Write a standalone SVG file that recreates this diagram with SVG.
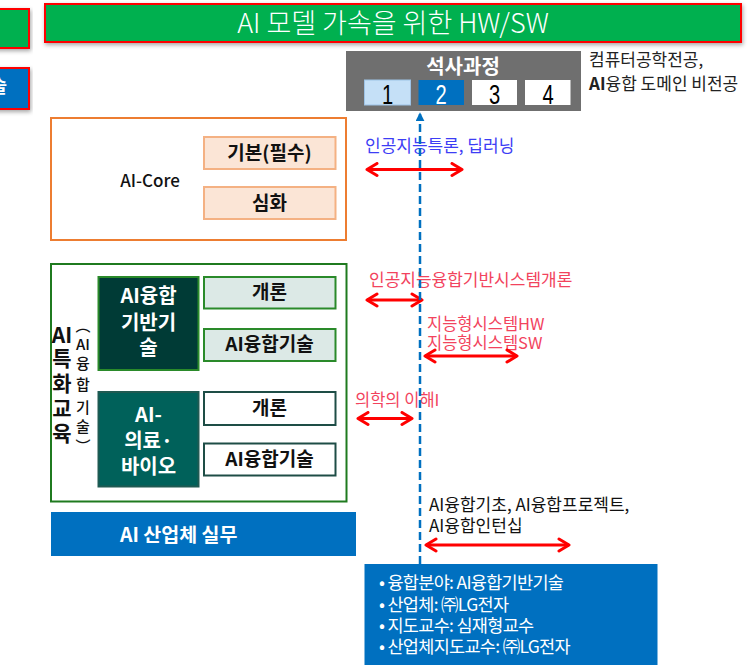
<svg xmlns="http://www.w3.org/2000/svg" width="749" height="665" viewBox="0 0 749 665">
<defs>
<style>
.k{font-family:"Noto Sans CJK KR","Liberation Sans",sans-serif}
.b{font-weight:bold}
.c{text-anchor:middle}
.sub{fill:#fbe5d6;stroke:#f4b183;stroke-width:2}
.lab{font-size:17px}
.red{fill:#f2435d}
.ra{stroke:#ff0000;stroke-width:3;fill:none;marker-start:url(#ch);marker-end:url(#ch)}
.bul{font-size:17.5px;fill:#ffffff;letter-spacing:-0.7px}
.num{font-family:"Liberation Sans",sans-serif;font-size:28px;text-anchor:middle}
</style>
<marker id="ch" viewBox="-12 -8 14 16" markerWidth="14" markerHeight="16" refX="0" refY="0" orient="auto-start-reverse" markerUnits="userSpaceOnUse">
<path d="M-10,-6 L0,0 L-10,6" fill="none" stroke="#ff0000" stroke-width="3" stroke-linecap="round" stroke-linejoin="round"/>
</marker>
<marker id="tri" viewBox="0 -5 10 10" markerWidth="9" markerHeight="9" refX="8" refY="0" orient="auto" markerUnits="userSpaceOnUse">
<path d="M0,-5 L10,0 L0,5 Z" fill="#0070c0"/>
</marker>
<filter id="sh" x="-10%" y="-30%" width="120%" height="160%">
<feDropShadow dx="1" dy="2" stdDeviation="2" flood-color="#000" flood-opacity="0.35"/>
</filter>
</defs>
<rect width="749" height="665" fill="#ffffff"/>

<g id="left-green-box">
<rect x="-5" y="9" width="34" height="39" fill="#00b050" stroke="#ff0000" stroke-width="2" filter="url(#sh)"/>
</g>
<g id="left-blue-box">
<rect x="-5" y="68" width="34" height="41" fill="#0070c0" stroke="#ff0000" stroke-width="2" filter="url(#sh)"/>
<text x="7" y="93" class="k b" font-size="18" fill="#ffffff" text-anchor="end">술</text>
</g>

<g id="title">
<rect x="45" y="4" width="696" height="38" fill="#00b050" stroke="#ff0000" stroke-width="2" filter="url(#sh)"/>
<text x="393" y="33" class="k c" font-size="27" font-weight="300" fill="#ffffff">AI 모델 가속을 위한 HW/SW</text>
</g>

<g id="master-course">
<rect x="346" y="51" width="235" height="60" fill="#6f6f6f"/>
<text x="463" y="74" class="k c b" font-size="20" fill="#ffffff">석사과정</text>
<rect x="364.5" y="80" width="46" height="25" fill="#c5e0f7" stroke="#9dc3e6" stroke-width="1"/>
<rect x="418.5" y="80" width="45.5" height="25" fill="#0070c0"/>
<rect x="472" y="80" width="45" height="25" fill="#ffffff"/>
<rect x="525" y="80" width="45.5" height="25" fill="#ffffff"/>
<text class="num" transform="translate(387.5,103.5) scale(0.72,1)" fill="#000000">1</text>
<text class="num" transform="translate(441,103.5) scale(0.72,1)" fill="#ffffff">2</text>
<text class="num" transform="translate(494.5,103.5) scale(0.72,1)" fill="#000000">3</text>
<text class="num" transform="translate(548,103.5) scale(0.72,1)" fill="#000000">4</text>
</g>

<g id="major-note">
<text x="589" y="66" class="k" font-size="17" fill="#222222">컴퓨터공학전공,</text>
<text x="589" y="90" class="k" font-size="17" fill="#222222"><tspan font-weight="bold">AI</tspan>융합 도메인 비전공</text>
</g>

<g id="ai-core">
<rect x="51" y="118" width="295" height="122" fill="#ffffff" stroke="#ed7d31" stroke-width="2"/>
<text x="150" y="187" class="k c" font-size="17" font-weight="500" fill="#111111">AI-Core</text>
</g>
<g id="core-basic">
<rect x="204" y="137" width="131.5" height="32" class="sub"/>
<text x="269.5" y="159.5" class="k c b" font-size="19" fill="#111111">기본(필수)</text>
</g>
<g id="core-adv">
<rect x="204" y="187" width="131.5" height="32" class="sub"/>
<text x="269.5" y="209.5" class="k c b" font-size="19" fill="#111111">심화</text>
</g>

<g id="ai-special">
<rect x="51" y="264" width="295.5" height="237.5" fill="#ffffff" stroke="#1f7a1f" stroke-width="2"/>
<g class="k b c" font-size="21" fill="#111111">
<text x="62" y="343">AI</text>
<text x="62" y="366">특</text>
<text x="62" y="391">화</text>
<text x="62" y="416">교</text>
<text x="62" y="441">육</text>
</g>
<g class="k c" font-size="15" font-weight="500" fill="#111111">
<text x="83" y="331">︵</text>
<text x="83" y="350">AI</text>
<text x="83" y="369">융</text>
<text x="83" y="390">합</text>
<text x="83" y="413">기</text>
<text x="83" y="432">술</text>
<text x="83" y="452">︶</text>
</g>
</g>

<g id="ai-base-tech">
<rect x="98.5" y="277" width="100" height="93" fill="#003b36" stroke="#2a8a2a" stroke-width="2"/>
<g class="k b c" font-size="20" fill="#ffffff">
<text x="148.5" y="303">AI융합</text>
<text x="148.5" y="330">기반기</text>
<text x="148.5" y="355">술</text>
</g>
</g>
<g id="base-intro">
<rect x="204" y="277" width="131.5" height="31.5" fill="#dce9e6" stroke="#2a8a2a" stroke-width="2"/>
<text x="269.5" y="299" class="k c b" font-size="19" fill="#111111">개론</text>
</g>
<g id="base-tech">
<rect x="204" y="329" width="131.5" height="32" fill="#dce9e6" stroke="#2a8a2a" stroke-width="2"/>
<text x="269.5" y="351" class="k c b" font-size="19" fill="#111111">AI융합기술</text>
</g>

<g id="ai-medical-bio">
<rect x="98.5" y="392" width="100" height="94.5" fill="#00615a" stroke="#1f5a52" stroke-width="2"/>
<g class="k b c" font-size="20" fill="#ffffff">
<text x="148.5" y="422">AI-</text>
<text x="148.5" y="448">의료·</text>
<text x="148.5" y="474">바이오</text>
</g>
</g>
<g id="med-intro">
<rect x="204" y="392" width="131.5" height="33" fill="#ffffff" stroke="#1e4d46" stroke-width="2"/>
<text x="269.5" y="415" class="k c b" font-size="19" fill="#111111">개론</text>
</g>
<g id="med-tech">
<rect x="204" y="443.5" width="131.5" height="32" fill="#ffffff" stroke="#1e4d46" stroke-width="2"/>
<text x="269.5" y="466" class="k c b" font-size="19" fill="#111111">AI융합기술</text>
</g>

<g id="industry">
<rect x="51" y="512" width="305" height="44" fill="#0070c0"/>
<text x="120" y="541.5" class="k b" font-size="19.5" fill="#ffffff">AI 산업체 실무</text>
</g>

<g id="info-box">
<rect x="364.5" y="564" width="293" height="105" fill="#0070c0"/>
<g class="k bul">
<text x="379" y="589">• 융합분야: AI융합기반기술</text>
<text x="379" y="611">• 산업체: ㈜LG전자</text>
<text x="379" y="632">• 지도교수: 심재형교수</text>
<text x="379" y="653">• 산업체지도교수: ㈜LG전자</text>
</g>
</g>

<g id="labels" class="k lab">
<text x="365" y="151.5" fill="#3d3df5">인공지능특론, 딥러닝</text>
<text x="369" y="285.5" class="red">인공지능융합기반시스템개론</text>
<text x="427" y="330" class="red" font-size="16.5">지능형시스템HW</text>
<text x="427" y="349" class="red" font-size="16.5">지능형시스템SW</text>
<text x="355" y="406" class="red" font-size="16.5">의학의 이해I</text>
<text x="429" y="510.5" fill="#111111">AI융합기초, AI융합프로젝트,</text>
<text x="429" y="531.5" fill="#111111">AI융합인턴십</text>
</g>

<g id="connectors">
<line x1="367" y1="169.5" x2="462" y2="169.5" class="ra"/>
<line x1="367" y1="300" x2="422" y2="300" class="ra"/>
<line x1="425" y1="356" x2="517" y2="356" class="ra"/>
<line x1="358" y1="418.5" x2="412" y2="418.5" class="ra"/>
<line x1="426" y1="545" x2="569" y2="545" class="ra"/>
<line x1="420" y1="564" x2="420" y2="114" stroke="#0070c0" stroke-width="2.5" stroke-dasharray="8,4" marker-end="url(#tri)"/>
</g>
</svg>
